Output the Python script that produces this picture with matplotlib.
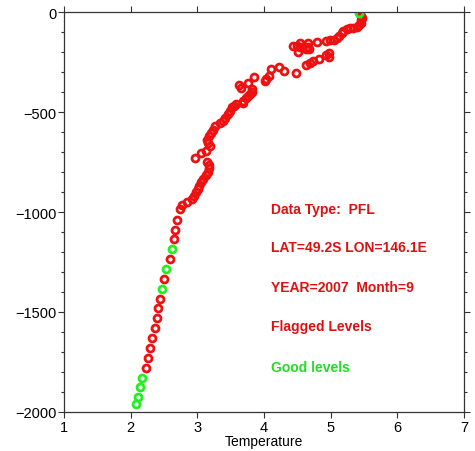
import matplotlib
matplotlib.use("Agg")
import matplotlib.pyplot as plt
from matplotlib.ticker import MultipleLocator

plt.rcParams['font.family'] = ['Liberation Sans', 'DejaVu Sans']

# flagged levels (temperature, depth)
red_temp = [5.46, 5.47, 5.46, 5.45, 5.43, 5.40, 5.34, 5.29, 5.24, 5.19, 5.165, 5.13,
            5.09, 5.05, 4.99, 4.93, 4.80, 4.665, 4.54, 4.49, 4.44, 4.54, 4.665, 4.515,
            4.63, 4.68, 4.975, 4.975, 4.925, 4.83, 4.74, 4.69, 4.63, 4.48, 4.30, 4.23,
            4.105, 4.08, 4.03, 4.015, 3.85, 3.765, 3.63, 3.66, 3.815, 3.815, 3.79, 3.755,
            3.725, 3.69, 3.68, 3.58, 3.55, 3.515, 3.49, 3.465, 3.415, 3.38, 3.34, 3.265,
            3.23, 3.20, 3.17, 3.14, 3.155, 3.195, 3.13, 3.05, 2.97, 3.15, 3.17, 3.18,
            3.155, 3.13, 3.09, 3.055, 3.03, 3.005, 2.98, 2.95, 2.92, 2.85, 2.765, 2.74,
            2.70, 2.67, 2.65, 2.585, 2.495, 2.44, 2.41, 2.39, 2.365, 2.32, 2.29, 2.255,
            2.225]
red_depth = [-22, -32, -42, -55, -65, -75, -80, -82, -85, -93, -107, -118,
             -130, -138, -140, -145, -148, -153, -157, -168, -168, -177, -177, -198,
             -185, -185, -207, -227, -213, -237, -247, -257, -267, -307, -297, -277,
             -285, -318, -335, -347, -327, -355, -365, -378, -385, -398, -410, -422,
             -432, -443, -455, -460, -468, -477, -493, -510, -532, -543, -557, -568,
             -588, -605, -622, -638, -657, -672, -695, -707, -732, -748, -765, -782,
             -798, -815, -835, -852, -868, -885, -902, -918, -935, -948, -965, -985,
             -1038, -1088, -1137, -1237, -1335, -1433, -1482, -1532, -1582, -1632, -1682, -1730,
             -1778]

# good levels
green_temp = [5.43, 2.62, 2.53, 2.465, 2.175, 2.145, 2.11, 2.08]
green_depth = [-3, -1187, -1285, -1383, -1828, -1877, -1925, -1960]

info_lines = ["Data Type:  PFL", "LAT=49.2S LON=146.1E", "YEAR=2007  Month=9", "Flagged Levels"]

fig = plt.figure(figsize=(4.75, 4.52), dpi=100)
ax = fig.add_axes([0.1347, 0.0863, 0.8421, 0.8849])

ax.plot(red_temp, red_depth, 'o', ls='none', ms=5, mfc='none', mec='#ee1111', mew=2)
ax.plot(green_temp, green_depth, 'o', ls='none', ms=5, mfc='none', mec='#22ee22', mew=2)

ax.set_xlim(1, 7)
ax.set_ylim(-2000, 0)
ax.xaxis.set_major_locator(MultipleLocator(1))
ax.yaxis.set_major_locator(MultipleLocator(500))
ax.yaxis.set_minor_locator(MultipleLocator(100))
ax.tick_params(which='both', direction='out', top=True, right=True, labelsize=10.5,
               color='#333333', pad=1.5)
ax.tick_params(which='major', length=4, width=0.8)
ax.tick_params(which='minor', length=2, width=0.8)
for s in ax.spines.values():
    s.set_color('#333333')
    s.set_linewidth(0.9)

ax.set_xlabel("Temperature", fontsize=10, labelpad=0)

ys = [-985, -1175, -1375, -1570]
for t, y in zip(info_lines, ys):
    ax.text(4.1, y, t, color='#dd1111', fontsize=10, fontweight='bold', va='center')
ax.text(4.1, -1775, "Good levels", color='#22dd22', fontsize=10, fontweight='bold', va='center')

fig.savefig("out.png", dpi=100)
